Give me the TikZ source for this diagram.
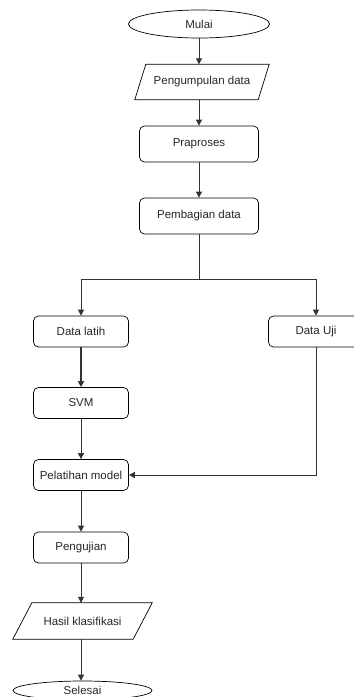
\documentclass[tikz,border=0pt]{standalone}
\usepackage{fontspec}
\setmainfont{Liberation Sans}
\usetikzlibrary{shapes.geometric,arrows.meta}
\begin{document}
\begin{tikzpicture}[x=1pt,y=-1pt,
 every node/.style={font=\fontsize{11.5}{13}\selectfont, text=black!85},
 term/.style={draw,line width=0.7pt,ellipse,minimum width=141pt,minimum height=28pt,inner sep=0pt},
 proc/.style={draw,line width=0.7pt,rounded corners=5pt,minimum width=119pt,minimum height=36pt,inner sep=0pt},
 procs/.style={proc,minimum width=95pt,minimum height=31pt},
 iobox/.style={rectangle,inner sep=0pt,minimum height=35pt},
 ioline/.style={draw,line width=0.7pt,line join=miter},
 conn/.style={draw=black!80,line width=0.8pt,-{Triangle[width=6pt,length=6pt]}}]
\useasboundingbox (0,0) rectangle (354,697);
\clip (0,0) rectangle (354,697);
\node[term] (mulai) at (199,24) {Mulai};
\node[iobox,minimum width=134pt] (kumpul) at (202,82) {Pengumpulan data};
\draw[ioline] ([xshift=11pt]kumpul.north west) -- (kumpul.north east) -- ([xshift=-11pt]kumpul.south east) -- (kumpul.south west) -- cycle;
\node[proc] (pra) at (199,144) {Praproses};
\node[proc] (bagi) at (199,216) {Pembagian data};
\node[procs] (latih) at (81,331.5) {Data latih};
\node[procs] (uji) at (316,331.5) {Data Uji};
\node[procs] (svm) at (81,403) {SVM};
\node[procs] (pel) at (81,475) {Pelatihan model};
\node[procs] (peng) at (81,547.5) {Pengujian};
\node[iobox,minimum width=139pt,minimum height=36pt] (hasil) at (82.5,621) {Hasil klasifikasi};
\draw[ioline] ([xshift=19pt]hasil.north west) -- (hasil.north east) -- ([xshift=-19pt]hasil.south east) -- (hasil.south west) -- cycle;
\node[term,minimum width=139pt,minimum height=19pt] (selesai) at (82.5,690.5) {Selesai};
\coordinate (split) at (199,279);
\draw[conn] (mulai.south) -- (mulai.south |- kumpul.north);
\draw[conn] (pra.north |- kumpul.south) -- (pra.north);
\draw[conn] (pra.south) -- (bagi.north);
\draw[draw=black!80,line width=0.8pt] (bagi.south) -- (split);
\draw[conn] (split) -| (latih.north);
\draw[conn] (split) -| (uji.north);
\draw[conn,line width=1.4pt] (latih.south) -- (svm.north);
\draw[conn] (svm.south) -- (pel.north);
\draw[conn] (uji.south) |- (pel.east);
\draw[conn] (pel.south) -- (peng.north);
\draw[conn] (peng.south) -- (peng.south |- hasil.north);
\draw[conn] (peng.south |- hasil.south) -- (peng.south |- selesai.north);
\end{tikzpicture}
\end{document}
